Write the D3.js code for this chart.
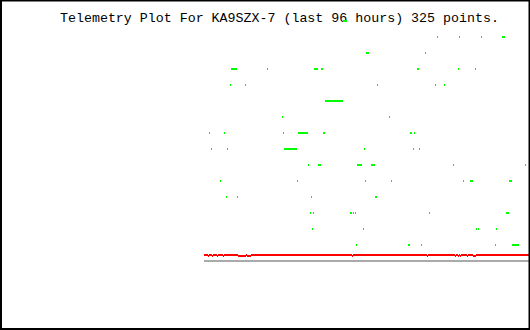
<!DOCTYPE html>
<html>
<head>
<meta charset="utf-8">
<script src="https://cdn.jsdelivr.net/npm/d3@7"></script>
<style>
  body { margin: 0; background: #ffffff; }
</style>
</head>
<body>
<div id="chart"></div>
<script>
// Your data
var title = "Telemetry Plot For KA9SZX-7 (last 96 hours) 325 points.";
var numPoints = 325;

// green channel, read as runs: start sample, run length, level
var greenStart = [139,
  233, 255, 277, 298,
  162, 221,
  27, 63, 110, 117, 213, 254, 271,
  26, 41, 173, 231, 240,
  121,
  78, 185,
  5, 20, 79, 94, 119, 206, 210,
  7, 23, 80, 160, 209, 215,
  104, 114, 153, 167, 249, 321,
  16, 93, 161, 187, 259, 266, 305,
  22, 33, 107, 171,
  106, 109, 146, 149, 151, 225, 302,
  108, 159, 272, 274, 292,
  152, 204, 217, 291, 308];
var greenRun = [4,
  1, 1, 1, 3,
  3, 1,
  6, 1, 4, 2, 2, 1, 1,
  1, 1, 1, 1, 1,
  18,
  1, 1,
  1, 1, 1, 10, 2, 2, 1,
  1, 1, 13, 1, 1, 1,
  1, 3, 5, 4, 1, 1,
  1, 1, 1, 1, 1, 3, 3,
  1, 1, 1, 2,
  1, 1, 2, 1, 1, 1, 3,
  1, 1, 1, 1, 1,
  1, 2, 1, 1, 7];
var greenLevel = [15,
  14, 14, 14, 14,
  13, 13,
  12, 12, 12, 12, 12, 12, 12,
  11, 11, 11, 11, 11,
  10,
  9, 9,
  8, 8, 8, 8, 8, 8, 8,
  7, 7, 7, 7, 7, 7,
  6, 6, 6, 6, 6, 6,
  5, 5, 5, 5, 5, 5, 5,
  4, 4, 4, 4,
  3, 3, 3, 3, 3, 3, 3,
  2, 2, 2, 2, 2,
  1, 1, 1, 1, 1];

// red channel: steady level with a few lower samples
var redLevel = 0.375;
var redLow = 0.3125;
var redLowIdx = [4, 8, 13, 19, 34, 35, 36, 37, 38, 39, 40, 41, 43, 44, 45, 46,
  148, 223, 251, 254, 256, 263, 269, 270, 271];

// grey baseline
var baseLevel = 0;

var width = 530;
var height = 330;

var x = d3.scaleLinear().domain([0, numPoints - 1]).range([204, 528]);
var y = d3.scaleLinear().domain([0, 15]).range([260, 20]);

var svg = d3.select("#chart").append("svg")
    .attr("width", width)
    .attr("height", height)
    .style("display", "block");

svg.append("rect")
    .attr("width", width)
    .attr("height", height)
    .attr("fill", "#ffffff");

// expand the runs to single samples
var green = [];
greenStart.forEach(function(s, k) {
    for (var j = 0; j < greenRun[k]; j++) {
        green.push({i: s + j, v: greenLevel[k]});
    }
});

var red = d3.range(numPoints).map(function(i) {
    return {i: i, v: redLowIdx.indexOf(i) >= 0 ? redLow : redLevel};
});

// baseline
svg.append("rect")
    .attr("x", x(0))
    .attr("y", y(baseLevel))
    .attr("width", x(numPoints - 1) - x(0) + 1)
    .attr("height", 2)
    .attr("fill", "#aaaaaa");

svg.selectAll(".red")
    .data(red)
  .enter().append("rect")
    .attr("class", "red")
    .attr("x", function(d) { return x(d.i); })
    .attr("y", function(d) { return y(d.v); })
    .attr("width", 1)
    .attr("height", 2)
    .attr("fill", "#ff0000");

svg.append("text")
    .attr("x", 60)
    .attr("y", 22)
    .style("font-family", "'Liberation Mono', monospace")
    .style("font-size", "13.3px")
    .attr("fill", "#000000")
    .text(title);

svg.selectAll(".green")
    .data(green)
  .enter().append("rect")
    .attr("class", "green")
    .attr("x", function(d) { return x(d.i); })
    .attr("y", function(d) { return y(d.v); })
    .attr("width", 1)
    .attr("height", 2)
    .attr("fill", "#00ff00");

// frame
svg.append("path")
    .attr("d", "M1,0V330M0,0.5H530M529.5,0V330M0,329H530")
    .attr("fill", "none")
    .attr("stroke", "#000000")
    .attr("stroke-width", 2);
</script>
</body>
</html>
